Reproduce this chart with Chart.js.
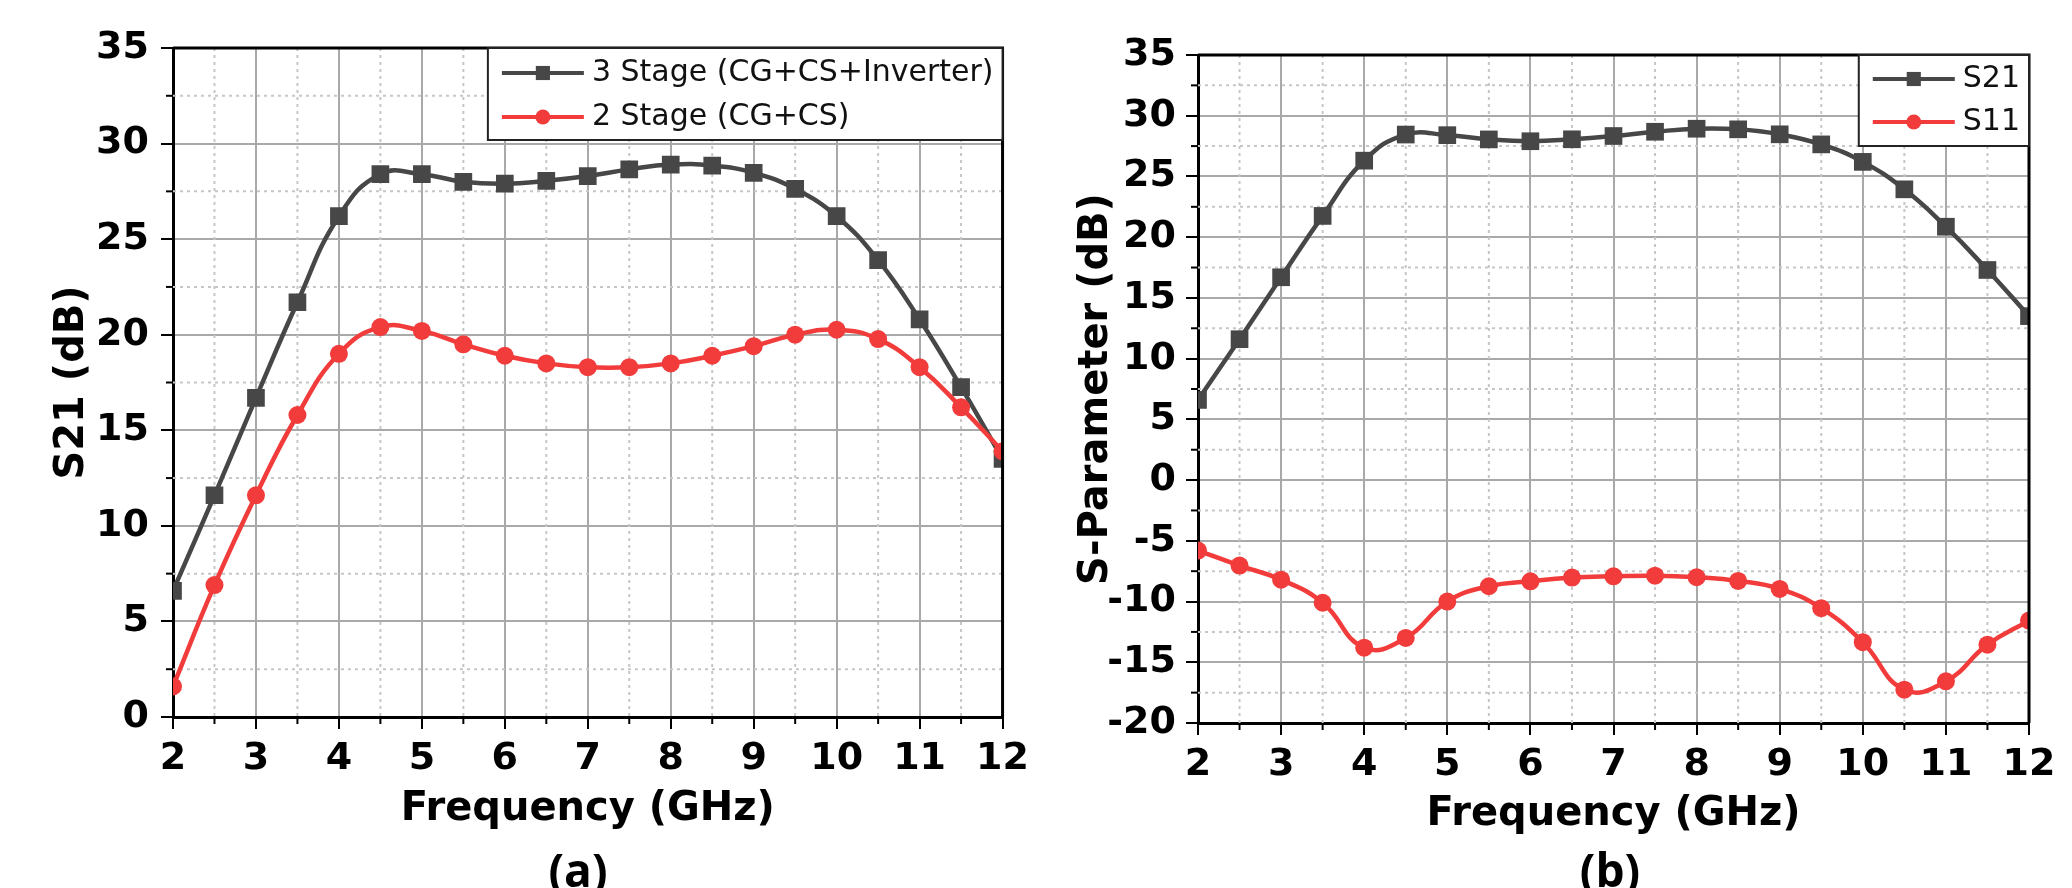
<!DOCTYPE html>
<html>
<head>
<meta charset="utf-8">
<script src="https://cdn.jsdelivr.net/npm/chart.js@4.4.0/dist/chart.umd.min.js"></script>
<style>
html, body { margin: 0; padding: 0; background: #fff; }
#wrap { position: relative; width: 2072px; height: 888px; overflow: hidden; }
.panel { position: absolute; top: 0; width: 1036px; height: 888px; }
.cap { position: absolute; top: 838px; line-height: 56px; font: 700 46px "Open Sans"; color: #000; transform: translateX(-50%); }
</style>
</head>
<body>
<div id="wrap">
  <div class="panel" style="left:0"><canvas id="chartA" width="1036" height="888"></canvas></div>
  <div class="panel" style="left:1036px"><canvas id="chartB" width="1036" height="888"></canvas></div>
  <div class="cap" style="left:578px">(a)</div>
  <div class="cap" style="left:1610px">(b)</div>
</div>
<script>
// valores (GHz / dB)
const freqGHz = [2, 2.5, 3, 3.5, 4, 4.5, 5, 5.5, 6, 6.5, 7, 7.5, 8, 8.5, 9, 9.5, 10, 10.5, 11, 11.5, 12];
const s21ThreeStage = [6.6, 11.6, 16.7, 21.7, 26.2, 28.4, 28.4, 28.0, 27.9, 28.05, 28.3, 28.65, 28.9, 28.85, 28.47, 27.63, 26.2, 23.9, 20.8, 17.26, 13.5];
const s21TwoStage = [1.6, 6.9, 11.6, 15.8, 19.0, 20.4, 20.2, 19.5, 18.9, 18.5, 18.3, 18.3, 18.5, 18.9, 19.4, 20.0, 20.26, 19.77, 18.3, 16.2, 13.9];
const s21Measured = [6.6, 11.6, 16.7, 21.75, 26.3, 28.45, 28.4, 28.05, 27.9, 28.06, 28.33, 28.68, 28.93, 28.88, 28.47, 27.64, 26.2, 23.94, 20.86, 17.3, 13.5];
const s11Measured = [-5.8, -7.04, -8.2, -10.1, -13.8, -13.0, -10.0, -8.74, -8.33, -8.03, -7.92, -7.87, -8.0, -8.3, -8.96, -10.55, -13.35, -17.26, -16.57, -13.55, -11.57];

const xTicks = { min: 2, max: 12, step: 1 };
const yTicksA = { min: 0, max: 35, step: 5 };
const yTicksB = { min: -20, max: 35, step: 5 };

const FONT = 'DejaVu Sans';
const GRAY = '#474747';
const RED = '#f23b3b';

// rejilla menor punteada, marco, marcas menores y leyenda con caja
const minorAndFrame = {
  id: 'minorAndFrame',
  beforeDatasetsDraw(chart) {
    const { ctx, chartArea: a, scales: { x, y } } = chart;
    ctx.save();
    ctx.strokeStyle = '#c6c6c6';
    ctx.lineWidth = 2;
    ctx.setLineDash([3, 4]);
    const xs = x.options.ticks.stepSize / 2, ys = y.options.ticks.stepSize / 2;
    x.ticks.forEach(t => {
      if (t.value + xs >= x.max) return;
      const px = x.getPixelForValue(t.value + xs);
      ctx.beginPath(); ctx.moveTo(px, a.top); ctx.lineTo(px, a.bottom); ctx.stroke();
    });
    y.ticks.forEach(t => {
      if (t.value + ys >= y.max) return;
      const py = y.getPixelForValue(t.value + ys);
      ctx.beginPath(); ctx.moveTo(a.left, py); ctx.lineTo(a.right, py); ctx.stroke();
    });
    ctx.restore();
  },
  afterDraw(chart, args, opts) {
    const { ctx, chartArea: a, scales: { x, y } } = chart;
    ctx.save();
    // marcas menores hacia fuera
    ctx.strokeStyle = '#000';
    ctx.lineWidth = 2;
    const xs = x.options.ticks.stepSize / 2, ys = y.options.ticks.stepSize / 2;
    x.ticks.forEach(t => {
      if (t.value + xs >= x.max) return;
      const px = x.getPixelForValue(t.value + xs);
      ctx.beginPath(); ctx.moveTo(px, a.bottom); ctx.lineTo(px, a.bottom + 7); ctx.stroke();
    });
    y.ticks.forEach(t => {
      if (t.value + ys >= y.max) return;
      const py = y.getPixelForValue(t.value + ys);
      ctx.beginPath(); ctx.moveTo(a.left - 7, py); ctx.lineTo(a.left, py); ctx.stroke();
    });
    // marco superior y derecho
    ctx.lineWidth = 3;
    ctx.beginPath();
    ctx.moveTo(a.left, a.top); ctx.lineTo(a.right, a.top); ctx.lineTo(a.right, a.bottom);
    ctx.stroke();

    // leyenda
    const items = opts.items;
    ctx.font = '30px "' + FONT + '"';
    const tw = Math.max(...items.map(it => ctx.measureText(it.label).width));
    const w = 14 + 82 + 8 + tw + 9;
    const left = a.right - w, top = a.top;
    ctx.fillStyle = '#fff';
    ctx.fillRect(left, top, w, opts.height);
    ctx.strokeStyle = '#222';
    ctx.lineWidth = 2;
    ctx.strokeRect(left, top, w, opts.height);
    items.forEach((it, i) => {
      const yy = top + opts.rows[i];
      ctx.strokeStyle = it.color;
      ctx.lineWidth = 4;
      ctx.beginPath(); ctx.moveTo(left + 14, yy); ctx.lineTo(left + 96, yy); ctx.stroke();
      ctx.fillStyle = it.color;
      Chart.helpers.drawPoint(ctx, { pointStyle: it.marker, radius: it.marker === 'rect' ? 10 : 7.5, rotation: 0, borderWidth: 0 }, left + 55, yy);
      ctx.fillStyle = '#111';
      ctx.textBaseline = 'middle';
      ctx.textAlign = 'left';
      ctx.fillText(it.label, left + 104, yy);
    });
    ctx.restore();
  }
};

function makePanel(id, g, yT, yTitle, series, legendRows, legendHeight) {
  const datasets = series.map(s => ({
    label: s.label,
    data: freqGHz.map((f, i) => ({ x: f, y: s.values[i] })),
    borderColor: s.color,
    backgroundColor: s.color,
    borderWidth: 4.5,
    tension: 0.45,
    pointStyle: s.marker,
    pointRadius: s.marker === 'rect' ? 12.5 : 9,
    pointBorderWidth: 0,
    pointHoverRadius: 0,
    order: s.order
  }));
  const tickFont = { family: FONT, size: 38, weight: 'bold' };
  const titleFont = { family: FONT, size: 40, weight: 'bold' };
  return new Chart(document.getElementById(id), {
    type: 'line',
    data: { datasets },
    options: {
      responsive: false,
      animation: false,
      events: [],
      layout: { padding: { left: 0, right: 1036 - g.right, top: g.top, bottom: 0 } },
      plugins: {
        legend: { display: false },
        tooltip: { enabled: false },
        minorAndFrame: {
          items: series.map(s => ({ label: s.label, color: s.color, marker: s.marker })),
          rows: legendRows,
          height: legendHeight
        }
      },
      scales: {
        x: {
          type: 'linear',
          min: xTicks.min, max: xTicks.max,
          ticks: { stepSize: xTicks.step, font: tickFont, color: '#000', padding: 7, maxRotation: 0 },
          grid: { color: '#a9a9a9', lineWidth: 2, tickLength: 12, tickColor: '#000', tickWidth: 2 },
          border: { color: '#000', width: 3 },
          title: { display: true, text: 'Frequency (GHz)', font: titleFont, color: '#000', padding: { top: 0, bottom: g.xTitlePad } },
          afterFit: s => { s.height = 888 - g.bottom; }
        },
        y: {
          type: 'linear',
          min: yT.min, max: yT.max,
          ticks: { stepSize: yT.step, font: tickFont, color: '#000', padding: g.yTickPad },
          grid: { color: '#a9a9a9', lineWidth: 2, tickLength: 12, tickColor: '#000', tickWidth: 2 },
          border: { color: '#000', width: 3 },
          title: { display: true, text: yTitle, font: titleFont, color: '#000', padding: { top: g.yTitlePad, bottom: 0 } },
          afterFit: s => { s.width = g.left; }
        }
      }
    },
    plugins: [minorAndFrame]
  });
}

makePanel('chartA',
  { left: 173, right: 1003, top: 48, bottom: 717, xTitlePad: 54, yTitlePad: 49, yTickPad: 12 },
  yTicksA, 'S21 (dB)',
  [
    { label: '3 Stage (CG+CS+Inverter)', values: s21ThreeStage, color: GRAY, marker: 'rect', order: 1 },
    { label: '2 Stage (CG+CS)', values: s21TwoStage, color: RED, marker: 'circle', order: 0 }
  ],
  [25, 69], 92);

makePanel('chartB',
  { left: 162, right: 993, top: 55, bottom: 723, xTitlePad: 49, yTitlePad: 37, yTickPad: 10 },
  yTicksB, 'S-Parameter (dB)',
  [
    { label: 'S21', values: s21Measured, color: GRAY, marker: 'rect', order: 1 },
    { label: 'S11', values: s11Measured, color: RED, marker: 'circle', order: 0 }
  ],
  [24, 67], 91);
</script>
</body>
</html>
